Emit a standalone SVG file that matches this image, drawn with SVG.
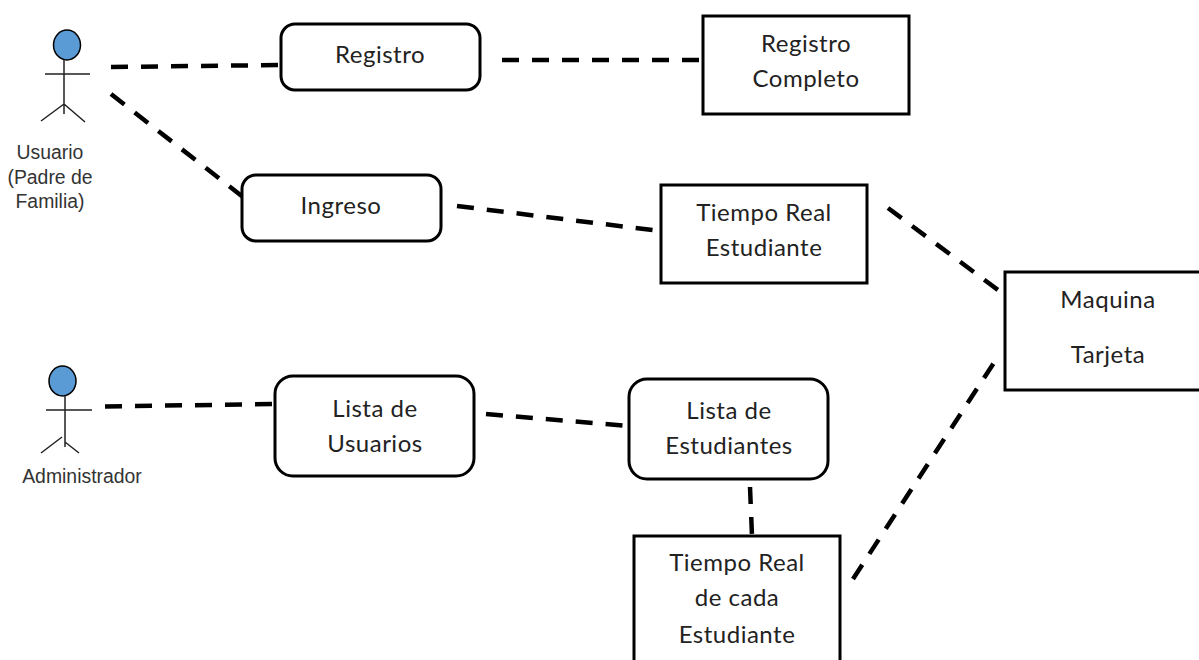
<svg xmlns="http://www.w3.org/2000/svg" width="1199" height="660" viewBox="0 0 1199 660">
<style>
.n{fill:#fff;stroke:#000;stroke-width:3}
.c{fill:none;stroke:#000;stroke-width:4.5;stroke-dasharray:17 13}
.a{fill:#5b9bd5;stroke:#000;stroke-width:1.5}
.l{fill:none;stroke:#222;stroke-width:1.5}
.t{font-family:Lato,"Open Sans",sans-serif;font-size:24px;letter-spacing:.5px;fill:#222;text-anchor:middle}
.s{font-family:"Liberation Sans",Arial,sans-serif;font-size:19.4px;fill:#333;text-anchor:middle}
</style>
<rect width="1199" height="660" fill="#fff"/>
<g id="connectors">
<path class="c" d="M111 67L281 65"/>
<path class="c" d="M502 60L703 60"/>
<path class="c" d="M111 94L243 197"/>
<path class="c" d="M457 206L660 231"/>
<path class="c" d="M888 208L998 290"/>
<path class="c" d="M105 406.500L275 404"/>
<path class="c" d="M486 414L629 426"/>
<path class="c" d="M750 487L752 536"/>
<path class="c" d="M853 579L997 358"/>
</g>
<g id="actor-usuario">
<ellipse class="a" cx="67" cy="45" rx="13.500" ry="15"/>
<path class="l" d="M64 60V114M45 74H90M64 104L41 121M64 104L85 122"/>
<text class="s" x="50" y="159">Usuario</text>
<text class="s" x="50" y="184">(Padre de</text>
<text class="s" x="50" y="208">Familia)</text>
</g>
<g id="actor-admin">
<ellipse class="a" cx="62.500" cy="381" rx="13.500" ry="15"/>
<path class="l" d="M65 396V447M46 410H92M62 437L41 453M65 442L79 453"/>
<text class="s" x="82" y="483">Administrador</text>
</g>
<g id="registro"><rect class="n" x="281" y="24" width="199" height="66" rx="14"/><text class="t" x="380" y="63">Registro</text></g>
<g id="registro-completo"><rect class="n" x="703" y="16" width="206" height="98"/><text class="t" x="806" y="52">Registro</text><text class="t" x="806" y="87">Completo</text></g>
<g id="ingreso"><rect class="n" x="242" y="175" width="199" height="66" rx="14"/><text class="t" x="341" y="214">Ingreso</text></g>
<g id="tiempo-real"><rect class="n" x="661" y="185" width="206" height="98"/><text class="t" x="764" y="221">Tiempo Real</text><text class="t" x="764" y="256">Estudiante</text></g>
<g id="maquina"><rect class="n" x="1005" y="272" width="200" height="118"/><text class="t" x="1108" y="308">Maquina</text><text class="t" x="1108" y="363">Tarjeta</text></g>
<g id="lista-usuarios"><rect class="n" x="275" y="376" width="199" height="100" rx="18"/><text class="t" x="375" y="417">Lista de</text><text class="t" x="375" y="452">Usuarios</text></g>
<g id="lista-estudiantes"><rect class="n" x="629" y="379" width="199" height="100" rx="18"/><text class="t" x="729" y="419">Lista de</text><text class="t" x="729" y="454">Estudiantes</text></g>
<g id="tiempo-cada"><rect class="n" x="634" y="536" width="206" height="130"/><text class="t" x="737" y="571">Tiempo Real</text><text class="t" x="737" y="606">de cada</text><text class="t" x="737" y="643">Estudiante</text></g>
</svg>
